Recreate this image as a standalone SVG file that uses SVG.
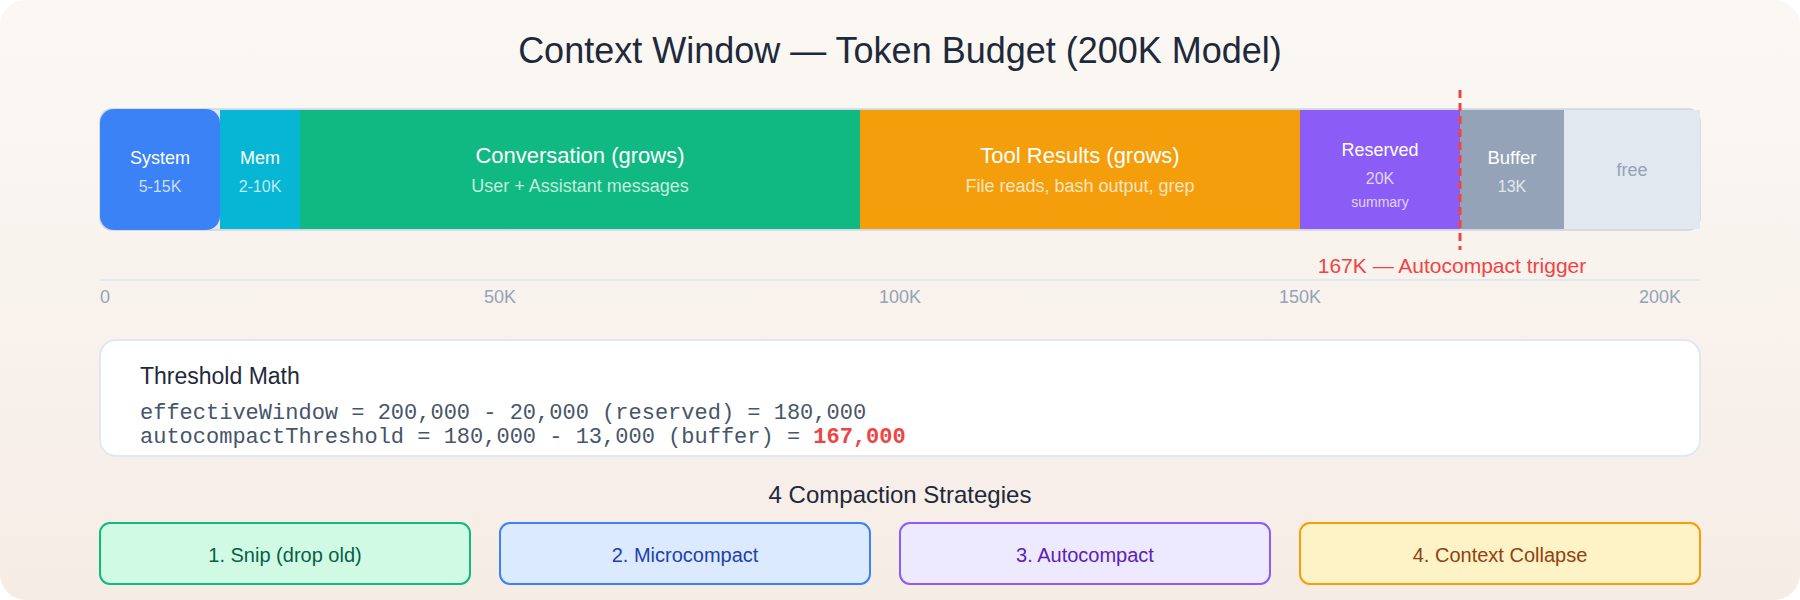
<svg xmlns="http://www.w3.org/2000/svg" width="1800" height="600" viewBox="0 0 1800 600">
  <defs>
    <linearGradient id="bg" x1="0" y1="0" x2="0" y2="1">
      <stop offset="0" stop-color="#fbf8f4"/>
      <stop offset="1" stop-color="#f6ece6"/>
    </linearGradient>
    <style>
      .sans { font-family: "Liberation Sans", Arial, sans-serif; }
      .mono { font-family: "Liberation Mono", "Courier New", monospace; }
      .lbl { fill: #ffffff; text-anchor: middle; }
      .sub { fill: #ffffff; fill-opacity: 0.75; text-anchor: middle; }
      .tick { fill: #94a3b8; font-size: 18px; text-anchor: middle; }
      .strat { stroke-width: 2; }
      .stxt { font-size: 20px; text-anchor: middle; }
    </style>
  </defs>

  <rect x="0" y="0" width="1800" height="600" rx="26" fill="url(#bg)"/>

  <text class="sans" x="900" y="63" font-size="36" fill="#1e293b" text-anchor="middle">Context Window — Token Budget (200K Model)</text>

  <g id="bar">
    <rect x="100" y="109" width="1600" height="121" rx="12" fill="#e2e8f0" stroke="#cbd5e1" stroke-width="1.5"/>
  </g>

  <g id="seg-system">
    <rect x="100" y="109" width="120" height="121" rx="14" fill="#3b82f6"/>
    <text class="sans lbl" x="160" y="164" font-size="18">System</text>
    <text class="sans sub" x="160" y="192" font-size="16">5-15K</text>
  </g>
  <g id="seg-mem">
    <rect x="220" y="110" width="80" height="119" fill="#06b6d4"/>
    <text class="sans lbl" x="260" y="164" font-size="18">Mem</text>
    <text class="sans sub" x="260" y="192" font-size="16">2-10K</text>
  </g>
  <g id="seg-conversation">
    <rect x="300" y="110" width="560" height="119" fill="#10b981"/>
    <text class="sans lbl" x="580" y="163" font-size="22">Conversation (grows)</text>
    <text class="sans sub" x="580" y="192" font-size="18" fill-opacity="0.85">User + Assistant messages</text>
  </g>
  <g id="seg-tools">
    <rect x="860" y="110" width="440" height="119" fill="#f59e0b"/>
    <text class="sans lbl" x="1080" y="163" font-size="22">Tool Results (grows)</text>
    <text class="sans sub" x="1080" y="192" font-size="18" fill-opacity="0.85">File reads, bash output, grep</text>
  </g>
  <g id="seg-reserved">
    <rect x="1300" y="110" width="160" height="119" fill="#8b5cf6"/>
    <text class="sans lbl" x="1380" y="156" font-size="18">Reserved</text>
    <text class="sans sub" x="1380" y="184" font-size="16">20K</text>
    <text class="sans sub" x="1380" y="207" font-size="14">summary</text>
  </g>
  <g id="seg-buffer">
    <rect x="1460" y="110" width="104" height="119" fill="#94a3b8"/>
    <text class="sans lbl" x="1512" y="164" font-size="18.5">Buffer</text>
    <text class="sans sub" x="1512" y="192" font-size="16">13K</text>
  </g>
  <g id="seg-free">
    <rect x="1564" y="110" width="136" height="119" fill="#e2e8f0"/>
    <text class="sans" x="1632" y="176" font-size="18" fill="#94a3b8" text-anchor="middle">free</text>
  </g>

  <g id="connectors">
    <line x1="1460" y1="90" x2="1460" y2="250" stroke="#ef4444" stroke-width="3" stroke-dasharray="8,5"/>
    <line x1="100" y1="280" x2="1700" y2="280" stroke="#e2e8f0" stroke-width="2"/>
  </g>

  <g id="trigger-label">
    <text class="sans" x="1452" y="273" font-size="21" fill="#ef4444" text-anchor="middle">167K — Autocompact trigger</text>
  </g>

  <g id="axis">
    <text class="sans tick" x="105" y="303">0</text>
    <text class="sans tick" x="500" y="303">50K</text>
    <text class="sans tick" x="900" y="303">100K</text>
    <text class="sans tick" x="1300" y="303">150K</text>
    <text class="sans tick" x="1660" y="303">200K</text>
  </g>

  <g id="threshold-math">
    <rect x="100" y="340" width="1600" height="116" rx="16" fill="#ffffff" stroke="#e2e8f0" stroke-width="2"/>
    <text class="sans" x="140" y="384" font-size="23" fill="#1e293b">Threshold Math</text>
    <text class="mono" x="140" y="419" font-size="22" fill="#475569">effectiveWindow = 200,000 - 20,000 (reserved) = 180,000</text>
    <text class="mono" x="140" y="443" font-size="22" fill="#475569">autocompactThreshold = 180,000 - 13,000 (buffer) = <tspan fill="#ef4444" font-weight="bold">167,000</tspan></text>
  </g>

  <text class="sans" x="900" y="503" font-size="24" fill="#1e293b" text-anchor="middle">4 Compaction Strategies</text>

  <g id="strategy-1">
    <rect class="strat" x="100" y="523" width="370" height="61" rx="10" fill="#d1fae5" stroke="#10b981"/>
    <text class="sans stxt" x="285" y="562" fill="#065f46">1. Snip (drop old)</text>
  </g>
  <g id="strategy-2">
    <rect class="strat" x="500" y="523" width="370" height="61" rx="10" fill="#dbeafe" stroke="#3b82f6"/>
    <text class="sans stxt" x="685" y="562" fill="#1e40af">2. Microcompact</text>
  </g>
  <g id="strategy-3">
    <rect class="strat" x="900" y="523" width="370" height="61" rx="10" fill="#ede9fe" stroke="#8b5cf6"/>
    <text class="sans stxt" x="1085" y="562" fill="#5b21b6">3. Autocompact</text>
  </g>
  <g id="strategy-4">
    <rect class="strat" x="1300" y="523" width="400" height="61" rx="10" fill="#fef3c7" stroke="#f59e0b"/>
    <text class="sans stxt" x="1500" y="562" fill="#92400e">4. Context Collapse</text>
  </g>
</svg>
